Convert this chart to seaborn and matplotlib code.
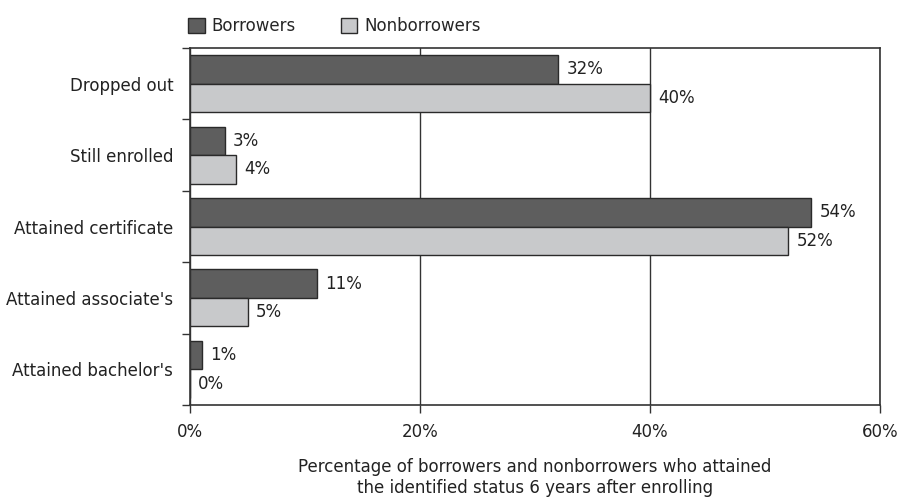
import matplotlib
matplotlib.use("Agg")
import matplotlib.pyplot as plt
import seaborn as sns
import pandas as pd
from matplotlib.patches import Patch
from matplotlib.ticker import FixedLocator

categories = ["Dropped out", "Still enrolled", "Attained certificate",
              "Attained associate's", "Attained bachelor's"]
borrowers = [32, 3, 54, 11, 1]
nonborrowers = [40, 4, 52, 5, 0]
groups = ["Borrowers", "Nonborrowers"]
xticks = [0, 20, 40, 60]

sns.set_theme(style="white")
plt.rcParams['font.family'] = ['Liberation Sans Narrow', 'DejaVu Sans']

df = pd.DataFrame({
    "status": categories * 2,
    "value": borrowers + nonborrowers,
    "group": [groups[0]] * len(categories) + [groups[1]] * len(categories),
})

colors = {"Borrowers": "#5e5e5e", "Nonborrowers": "#c8c9cb"}

fig = plt.figure(figsize=(9.01, 5.0), dpi=100)
ax = fig.add_axes([190/901, 1-405/500, (880-190)/901, (405-48)/500])

sns.barplot(data=df, y="status", x="value", hue="group", order=categories,
            hue_order=groups, palette=colors, orient="h", width=0.8, gap=0,
            edgecolor="#2a2a2a", linewidth=1.0, ax=ax, legend=False)

for cont, vals in zip(ax.containers, [borrowers, nonborrowers]):
    ax.bar_label(cont, labels=[f"{v}%" for v in vals], padding=6,
                 fontsize=12, color="#222222")

ax.set_xlim(0, 60)
ax.set_ylim(len(categories) - 0.5, -0.5)
ax.set_xticks(xticks)
ax.set_xticklabels([f"{t}%" for t in xticks], fontsize=12, color="#222222")
ax.tick_params(axis="x", direction="out", length=6, width=1, color="#333333", pad=7,
               bottom=True)

ax.yaxis.set_major_locator(FixedLocator([i - 0.5 for i in range(len(categories) + 1)]))
ax.yaxis.set_minor_locator(FixedLocator(list(range(len(categories)))))
ax.set_yticklabels([], minor=False)
ax.set_yticklabels(categories, minor=True, fontsize=12, color="#222222")
ax.tick_params(axis="y", which="major", direction="out", length=6, width=1,
               color="#333333", left=True)
ax.tick_params(axis="y", which="minor", length=0, pad=12)

ax.xaxis.grid(True, color="#333333", linewidth=1)
ax.yaxis.grid(False)
ax.set_axisbelow(True)
for s in ax.spines.values():
    s.set_color("#333333")
    s.set_linewidth(1.2)

ax.set_ylabel("")
ax.set_xlabel("Percentage of borrowers and nonborrowers who attained\n"
              "the identified status 6 years after enrolling",
              fontsize=12, color="#222222", labelpad=12)

handles = [Patch(facecolor=colors[g], edgecolor="#2a2a2a", linewidth=1.0, label=g)
           for g in groups]
fig.legend(handles=handles, loc="lower left", bbox_to_anchor=(188/901, 1-35/500),
           ncol=2, frameon=False, fontsize=12, handlelength=1.0, handleheight=1.0,
           handletextpad=0.4, columnspacing=2.7, borderaxespad=0, borderpad=0)

fig.savefig("out.png", dpi=100)
